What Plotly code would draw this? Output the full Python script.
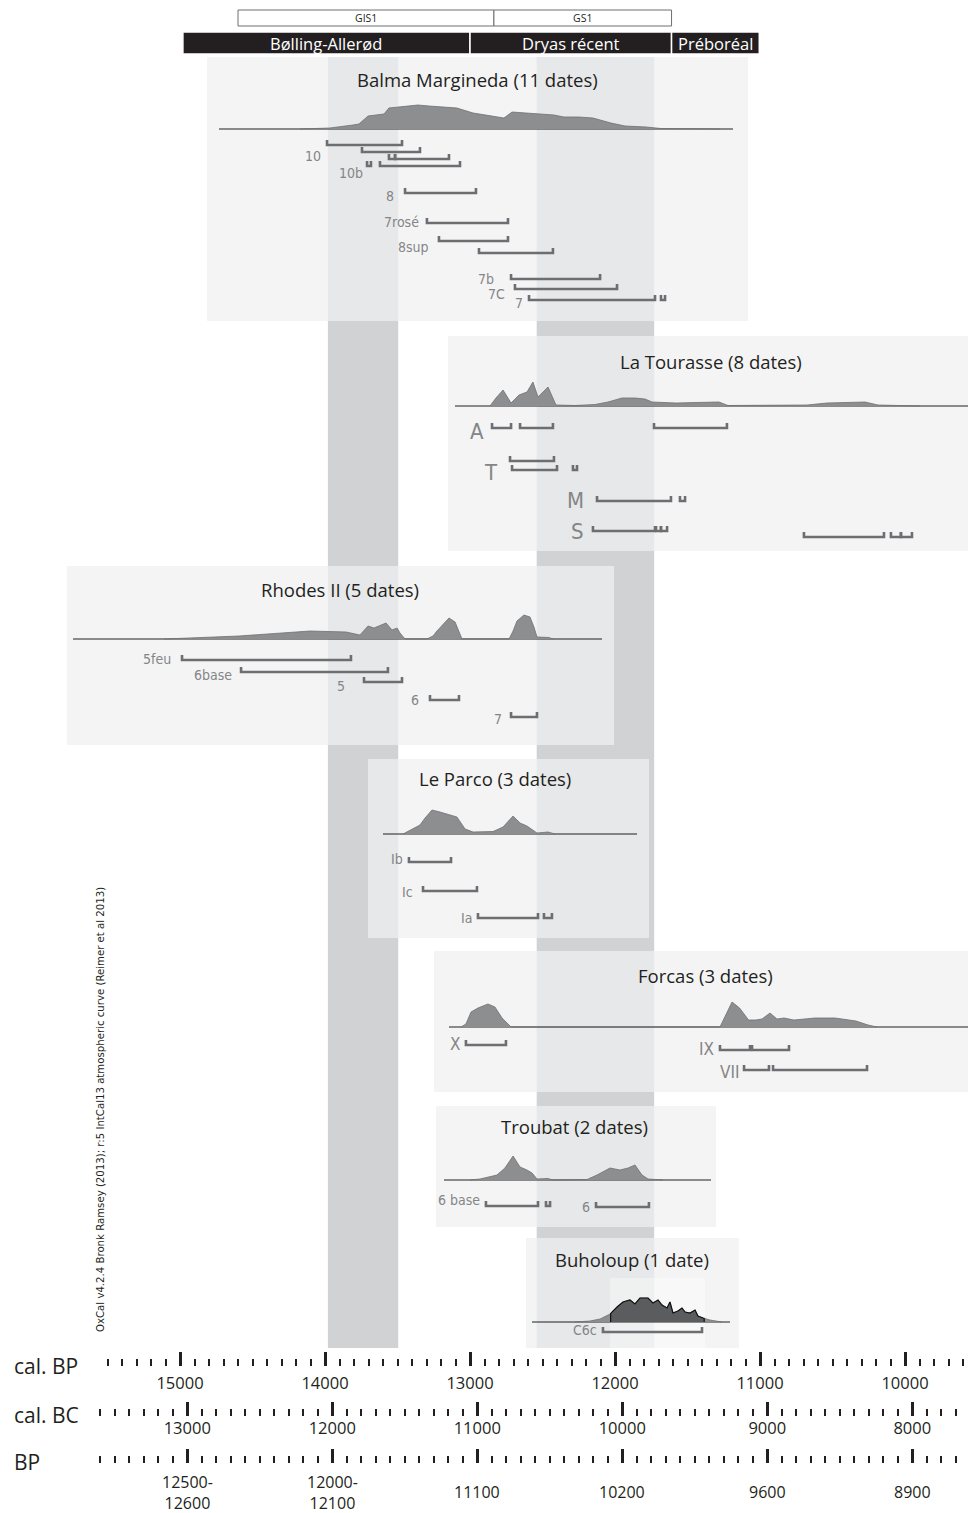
import numpy as np
import plotly.graph_objects as go

# ===================== DATA (all x values in cal BP) =====================
gi_names = ["GIS1", "GS1"]
gi_start = [14600, 12835]
gi_end = [12835, 11610]

period_names = ["Bølling-Allerød", "Dryas récent", "Préboréal"]
period_start = [14980, 13000, 11610]
period_end = [13000, 11610, 11005]

band_start = [13980, 12540]
band_end = [13495, 11730]

site_names = ["Balma Margineda", "La Tourasse", "Rhodes II", "Le Parco",
              "Forcas", "Troubat", "Buholoup"]
site_ndates = [11, 8, 5, 3, 3, 2, 1]

# --- Balma Margineda ---
balma_bp = [14172, 13966, 13807, 13766, 13703, 13593, 13559, 13483, 13359, 13283,
            13090, 12979, 12841, 12766, 12710, 12545, 12421, 12352, 12248, 12152,
            12028, 11931, 11786, 11683, 11414, 11276]
balma_p = [0, 1, 4, 5, 13, 15, 21, 22, 24, 23,
           21, 16, 13, 11, 17, 15, 14, 12, 12, 11,
           6, 3, 2, 0.5, 0.3, 0]
balma_dates = [
    [(13986, 13469)],
    [(13745, 13345)],
    [(13559, 13517), (13517, 13145)],
    [(13710, 13683), (13621, 13069)],
    [(13448, 12959)],
    [(13297, 12738)],
    [(13214, 12738)],
    [(12938, 12428)],
    [(12717, 12103)],
    [(12690, 11986)],
    [(12593, 11724), (11683, 11655)],
]
balma_labels = ["10", "", "", "10b", "8", "7rosé", "8sup", "", "7b", "7C", "7"]

# --- La Tourasse ---
tour_bp = [12862, 12821, 12772, 12717, 12662, 12607, 12566, 12531, 12462, 12407,
           12276, 12138, 12048, 11952, 11862, 11793, 11745, 11579, 11441, 11283,
           11221, 10676, 10538, 10276, 10186, 10000, 9897]
tour_p = [0, 8, 16, 3, 11, 14, 24, 9, 19, 1,
          0.5, 1.5, 4, 8, 8, 7, 4, 3, 3.5, 4,
          0.5, 1, 3, 4, 1, 0.3, 0]
tour_dates = [
    [(12848, 12717), (12655, 12428), (11731, 11228)],
    [(12724, 12421)],
    [(12710, 12400), (12290, 12262)],
    [(12124, 11614), (11552, 11517)],
    [(12152, 11724), (11717, 11683), (11683, 11641)],
    [(10697, 10145), (10097, 10028), (10028, 9952)],
]
tour_labels = ["A", "T", "", "M", "S", ""]

# --- Rhodes II ---
rhodes_bp = [15110, 14593, 14103, 13855, 13759, 13703, 13662, 13579, 13538, 13503,
             13483, 13448, 13297, 13255, 13228, 13179, 13145, 13103, 13055, 12731,
             12703, 12676, 12628, 12586, 12559, 12538, 12455, 12428]
rhodes_p = [0, 3, 8, 7, 4, 13, 11, 16, 9, 11,
            6, 0, 0, 3, 8, 16, 21, 17, 0, 0,
            8, 18, 24, 22, 12, 2, 1.5, 0]
rhodes_dates = [
    [(14986, 13821)],
    [(14579, 13566)],
    [(13731, 13469)],
    [(13276, 13076)],
    [(12717, 12538)],
]
rhodes_labels = ["5feu", "6base", "5", "6", "7"]

# --- Le Parco ---
parco_bp = [13462, 13414, 13345, 13310, 13262, 13207, 13152, 13090, 13034, 12979,
            12841, 12772, 12703, 12655, 12607, 12538, 12462, 12414]
parco_p = [0, 4, 9, 16, 24, 22, 20, 17, 5, 2,
           2.5, 7, 18, 11, 8, 1, 2, 0]
parco_dates = [
    [(13421, 13131)],
    [(13324, 12952)],
    [(12945, 12531), (12490, 12435)],
]
parco_labels = ["Ib", "Ic", "Ia"]

# --- Forcas ---
forcas_bp = [13062, 13028, 12993, 12945, 12876, 12828, 12779, 12717, 11276, 11241,
             11193, 11141, 11079, 11030, 10986, 10931, 10883, 10834, 10766, 10621,
             10483, 10338, 10255, 10193]
forcas_p = [0, 3, 15, 19, 23, 20, 9, 0, 0, 10,
            25, 19, 7, 7, 8, 14, 8, 9, 7, 9,
            9, 6, 2, 0]
forcas_dates = [
    [(13028, 12752)],
    [(11276, 11069), (11055, 10800)],
    [(11110, 10938), (10910, 10262)],
]
forcas_labels = ["X", "IX", "VII"]

# --- Troubat ---
troubat_bp = [13000, 12931, 12814, 12759, 12703, 12655, 12607, 12572, 12538, 12462,
              12428, 12193, 12124, 12034, 11966, 11910, 11862, 11814, 11772, 11669]
troubat_p = [0, 1, 5, 12, 24, 13, 10, 7, 1, 1.5,
             0, 0.5, 5, 12, 10, 12, 15, 5, 1, 0]
troubat_dates = [
    [(12890, 12531), (12476, 12448)],
    [(12131, 11766)],
]
troubat_labels = ["6 base", "6"]

# --- Buholoup ---
buho_bp = [12276, 12172, 12103, 12034, 11986, 11945, 11897, 11862, 11828, 11772,
           11738, 11703, 11676, 11641, 11621, 11600, 11566, 11538, 11517, 11483,
           11448, 11428, 11393, 11345, 11262]
buho_p = [0, 1, 3, 8, 15, 20, 22, 18, 24, 24,
          19, 22, 17, 14, 20, 9, 11, 14, 10, 9,
          12, 6, 4, 2, 0]
buho_dates = [[(12083, 11400)]]
buho_labels = ["C6c"]
buho_hpd = (12030, 11385)

# --- axes ---
calbp_ticks = [15000, 14000, 13000, 12000, 11000, 10000]
calbc_ticks = [13000, 12000, 11000, 10000, 9000, 8000]
bp_tick_labels = ["12500-<br>12600", "12000-<br>12100", "11100", "10200", "9600", "8900"]
axis_names = ["cal. BP", "cal. BC", "BP"]
caption = ("OxCal v4.2.4 Bronk Ramsey (2013); r:5 IntCal13 atmospheric curve "
           "(Reimer et al 2013)")

# ===================== LAYOUT / STYLE =====================
W, H = 968, 1513
PX0, BP0, PX_PER_YR = 180, 15000, 0.145


def px2bp(px):
    return BP0 - (px - PX0) / PX_PER_YR


XR = [px2bp(0), px2bp(W)]
DARK = "#231f20"
LABEL_GREY = "#848587"
BRACKET = "#6d6e71"
NARROW = "DejaVu Sans Condensed, Liberation Sans Narrow, Arial Narrow, sans-serif"
SANS = "Open Sans, Lato, sans-serif"

site_curves = [(balma_bp, balma_p), (tour_bp, tour_p), (rhodes_bp, rhodes_p),
               (parco_bp, parco_p), (forcas_bp, forcas_p), (troubat_bp, troubat_p),
               (buho_bp, buho_p)]
site_dates = [balma_dates, tour_dates, rhodes_dates, parco_dates, forcas_dates,
              troubat_dates, buho_dates]
site_labels = [balma_labels, tour_labels, rhodes_labels, parco_labels, forcas_labels,
               troubat_labels, buho_labels]

site_layout = [
    dict(panel=(207, 748, 57, 321), title=(477, 79), base=(219, 733, 129),
         rows=[145, 152, 159, 166, 193, 223, 241, 253, 279, 289, 300],
         lab=[(4, 11), None, None, (2, 7), (9, 3), (6, -1), (8, 6), None, (15, 0), (8, 5), (4, 3)],
         lsize=14),
    dict(panel=(448, 968, 336, 551), title=(711, 361), base=(455, 968, 406),
         rows=[428, 461, 470, 501, 531, 537],
         lab=[(6, 3), (10, 11), None, (11, -1), (7, 0), None], lsize=22),
    dict(panel=(67, 614, 566, 745), title=(340, 589), base=(73, 602, 639),
         rows=[660, 672, 682, 700, 717],
         lab=[(9, -1), (7, 3), (17, 4), (9, 0), (7, 2)], lsize=14),
    dict(panel=(368, 649, 759, 938), title=(495, 778), base=(383, 637, 834),
         rows=[862, 891, 918], lab=[(4, -3), (8, 1), (4, 0)], lsize=14),
    dict(panel=(434, 968, 951, 1092), title=(705, 975), base=(449, 968, 1027),
         rows=[1045, 1050, 1070], lab=[(4, -1), (4, -1), (3, 2)], lsize=17),
    dict(panel=(436, 716, 1106, 1227), title=(574, 1126), base=(444, 711, 1180),
         rows=[1206, 1207], lab=[(4, -6), (4, 0)], lsize=14),
    dict(panel=(526, 739, 1238, 1348), title=(632, 1259), base=(532, 730, 1322),
         rows=[1332], lab=[(4, -2)], lsize=14),
]

shapes = []
annotations = []
traces = []


def xrect(px0, px1, y0, y1, fill, line=None):
    return dict(type="rect", xref="x", yref="y", x0=px2bp(px0), x1=px2bp(px1),
                y0=y0, y1=y1, fillcolor=fill, line=line or dict(width=0), layer="below")


# vertical climatic bands
for b0, b1 in zip(band_start, band_end):
    shapes.append(dict(type="rect", xref="x", yref="y", x0=b0, x1=b1, y0=57, y1=1348,
                       fillcolor="#d1d2d4", line=dict(width=0), layer="below"))

# panels + titles
for name, n, lay in zip(site_names, site_ndates, site_layout):
    x0, x1, y0, y1 = lay["panel"]
    shapes.append(xrect(x0, x1, y0, y1, "rgba(240,240,241,0.72)"))
    tx, ty = lay["title"]
    annotations.append(dict(xref="x", yref="y", x=px2bp(tx), y=ty,
                            text=f"{name} ({n} date{'s' if n > 1 else ''})",
                            showarrow=False, xanchor="center", yanchor="middle",
                            font=dict(family=SANS, size=18.5, color=DARK)))

# lighter zone in Buholoup panel
shapes.append(xrect(610, 705, 1278, 1348, "rgba(255,255,255,0.35)"))

# baselines
for lay in site_layout:
    bx0, bx1, by = lay["base"]
    shapes.append(dict(type="line", xref="x", yref="y", x0=px2bp(bx0), x1=px2bp(bx1),
                       y0=by, y1=by, line=dict(color=DARK, width=1), layer="below"))

# header: Greenland stages
for nm, a, b in zip(gi_names, gi_start, gi_end):
    shapes.append(dict(type="rect", xref="x", yref="y", x0=a, x1=b, y0=10, y1=26,
                       fillcolor="white", line=dict(color="#6d6e71", width=1)))
    annotations.append(dict(xref="x", yref="y", x=(a + b) / 2, y=18, text=nm,
                            showarrow=False, font=dict(family=SANS, size=10.5, color=DARK)))
# header: chronozones
for nm, a, b in zip(period_names, period_start, period_end):
    shapes.append(dict(type="rect", xref="x", yref="y", x0=a, x1=b, y0=32, y1=54,
                       fillcolor=DARK, line=dict(color="white", width=1.5)))
    annotations.append(dict(xref="x", yref="y", x=(a + b) / 2, y=43, text=nm,
                            showarrow=False, font=dict(family=SANS, size=16.5, color="white")))

# curves, brackets, labels
for (cbp, cp), dates, labels, lay in zip(site_curves, site_dates, site_labels, site_layout):
    base = lay["base"][2]
    traces.append(go.Scatter(x=cbp, y=[base - v for v in cp], mode="lines",
                             fill="toself", fillcolor="#8d8e90",
                             line=dict(color="#6f7072", width=0.8),
                             hoverinfo="skip", showlegend=False))
    xs, ys = [], []
    for d, row in zip(dates, lay["rows"]):
        for a, b in d:
            xs += [a, a, b, b, None]
            ys += [row - 5, row, row, row - 5, None]
    traces.append(go.Scatter(x=xs, y=ys, mode="lines",
                             line=dict(color=BRACKET, width=2.6),
                             hoverinfo="skip", showlegend=False))
    for d, lab, row, off in zip(dates, labels, lay["rows"], lay["lab"]):
        if not lab or off is None:
            continue
        gap, dy = off
        annotations.append(dict(xref="x", yref="y", x=d[0][0] + gap / PX_PER_YR,
                                y=row + dy, text=lab, showarrow=False,
                                xanchor="right", yanchor="middle",
                                font=dict(family=NARROW, size=lay["lsize"], color=LABEL_GREY)))

# Buholoup highest-density part (darker)
bb = np.array(buho_bp[::-1], dtype=float)
bpv = np.array(buho_p[::-1], dtype=float)
hi, lo = buho_hpd
mask = (bb <= hi) & (bb >= lo)
hx = [lo] + list(bb[mask]) + [hi]
hy = [np.interp(lo, bb, bpv)] + list(bpv[mask]) + [np.interp(hi, bb, bpv)]
bbase = site_layout[6]["base"][2]
traces.append(go.Scatter(x=[lo] + hx + [hi], y=[bbase] + [bbase - v for v in hy] + [bbase],
                         mode="lines", fill="toself", fillcolor="#5b5c5e",
                         line=dict(color="#111111", width=1.2),
                         hoverinfo="skip", showlegend=False))

# caption
annotations.append(dict(xref="x", yref="y", x=px2bp(100), y=1110, text=caption,
                        textangle=-90, showarrow=False,
                        font=dict(family=NARROW, size=11.3, color=DARK)))

# axis names
for nm, y in zip(axis_names, [1366, 1415, 1462]):
    annotations.append(dict(xref="x", yref="y", x=px2bp(12), y=y, text=nm,
                            xanchor="left", yanchor="middle", showarrow=False,
                            font=dict(family=SANS, size=21, color=DARK)))

# BP row labels (centred under the ticks)
calbc_pos = [v + 1950 for v in calbc_ticks]
for pos, lab in zip(calbc_pos, bp_tick_labels):
    annotations.append(dict(xref="x", yref="y", x=pos, y=1492, text=lab,
                            showarrow=False, xanchor="center", yanchor="middle",
                            font=dict(family=SANS, size=16, color=DARK)))

calbp_minor = [v for v in range(15500, 9550, -100) if v % 1000 != 0]
calbc_minor = [v for v in range(15550, 9600, -100) if v not in calbc_pos]


def tick_axis(pos_px, major, labels, minor, show_labels=True, standoff=0):
    return dict(overlaying="x", anchor="free", position=1 - pos_px / H, side="bottom",
                range=XR, showgrid=False, zeroline=False, showline=False,
                ticks="inside", tickmode="array", tickvals=major, ticktext=labels,
                ticklen=14, tickwidth=2.6, tickcolor=DARK,
                showticklabels=show_labels, ticklabelstandoff=standoff,
                tickfont=dict(family=SANS, size=16.5, color=DARK),
                minor=dict(tickmode="array", tickvals=minor, ticks="inside",
                           ticklen=7, tickwidth=1.6, tickcolor=DARK, showgrid=False))


for ax in ["x2", "x3", "x4"]:
    traces.append(go.Scatter(x=[12000], y=[3000], xaxis=ax, yaxis="y", mode="markers",
                             marker=dict(opacity=0), hoverinfo="skip", showlegend=False))

fig = go.Figure(data=traces)
fig.update_layout(
    width=W, height=H, autosize=False,
    margin=dict(l=0, r=0, t=0, b=0, pad=0),
    paper_bgcolor="white", plot_bgcolor="white",
    xaxis=dict(range=XR, visible=False, domain=[0, 1]),
    yaxis=dict(range=[H, 0], visible=False, domain=[0, 1]),
    xaxis2=tick_axis(1366, calbp_ticks, [str(v) for v in calbp_ticks], calbp_minor, True, 5),
    xaxis3=tick_axis(1416, calbc_pos, [str(v) for v in calbc_ticks], calbc_minor, True, 0),
    xaxis4=tick_axis(1463, calbc_pos, ["" for _ in calbc_ticks], calbc_minor, False),
    shapes=shapes, annotations=annotations, showlegend=False,
)
fig.write_html("out.html", config={"displayModeBar": False},
               post_script="document.body.style.margin='0';")
